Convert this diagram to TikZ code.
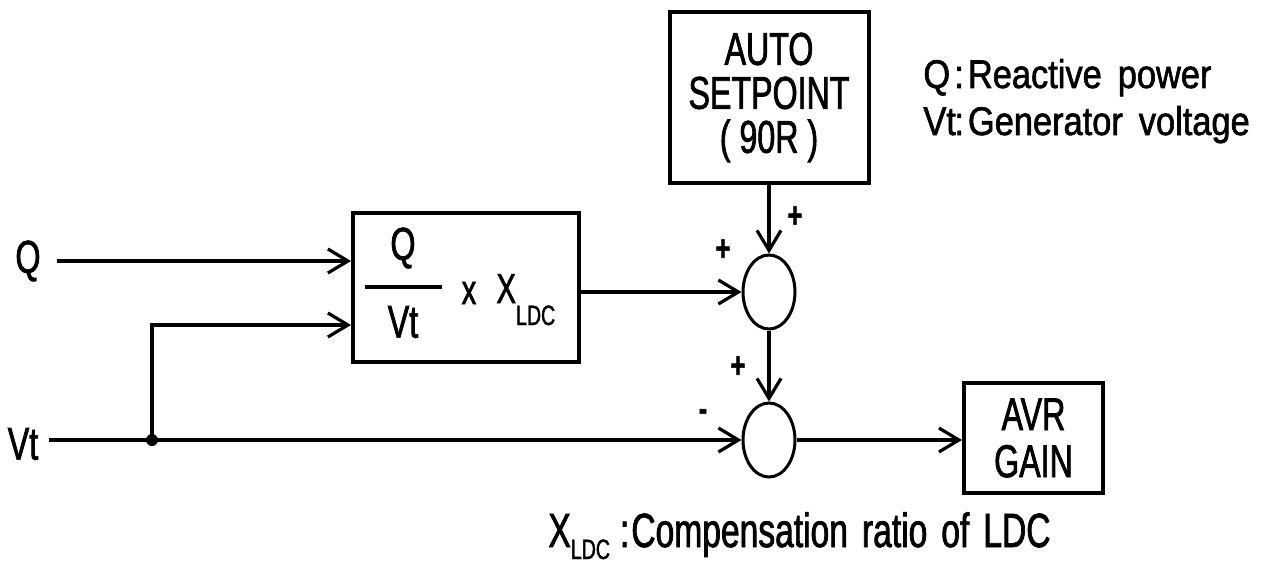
\documentclass[tikz,border=0pt]{standalone}
\usepackage{fontspec}
\setmainfont{Liberation Sans}[FakeStretch=0.7,FakeBold=1.5]
\newfontfamily\legfont{Liberation Sans}[FakeStretch=0.86,FakeBold=1.5]
\usetikzlibrary{arrows.meta,shapes.geometric,calc}
\begin{document}
\begin{tikzpicture}[x=0.5pt,y=-0.5pt,
  blk/.style={draw,line width=2pt,inner sep=0pt},
  sumnode/.style={draw,ellipse,line width=1.5pt,minimum width=26pt,minimum height=37pt,inner sep=0pt},
  conn/.style={line width=1.6pt,-{Straight Barb[length=10pt,width=12pt]}},
  wire/.style={line width=1.6pt},
  lbl/.style={font=\fontsize{23}{23}\selectfont,inner sep=0pt},
  sgn/.style={font=\fontsize{18}{18}\selectfont\bfseries,inner sep=0pt},
  leg/.style={font=\legfont\fontsize{20}{20}\selectfont,inner sep=0pt,anchor=base west}]
\useasboundingbox (0,0) rectangle (1263,567);
% blocks
\node[blk,minimum width=113pt,minimum height=74.5pt] (f) at (466,287.5) {};
\node[lbl] (fq) at (403,248) {Q};
\node[lbl] (fv) at (403,322) {Vt};
\draw[line width=1.6pt] (365,287) -- (442,287);
\node[font=\fontsize{21}{21}\selectfont,inner sep=0pt] (fx) at (469,293) {x};
\node[anchor=base west,inner sep=0pt,font=\fontsize{21}{21}\selectfont] (fX) at (496,303) {X\raisebox{-11pt}{\fontsize{14}{14}\selectfont LDC}};
\node[blk,align=center,font=\fontsize{23}{22}\selectfont,minimum width=99.5pt,minimum height=85.5pt] (auto) at (769,97.5) {AUTO\\SETPOINT\\( 90R )};
\node[blk,align=center,font=\fontsize{23}{23.5}\selectfont,minimum width=69.5pt,minimum height=55pt] (avr) at (1033.5,438) {AVR\\GAIN};
\node[sumnode] (s1) at (769,292) {};
\node[sumnode] (s2) at (769,440) {};
% inputs
\node[lbl] (qin) at (28,261) {Q};
\node[lbl] (vtin) at (23,444) {Vt};
\coordinate (dot) at (152,440);
\fill (dot) circle (3pt);
\draw[conn,shorten <=8pt] (qin.east) -- (qin.east -| f.west);
\draw[wire] (vtin.east |- dot) ++(10,0) -- (dot);
\draw[conn] (dot) -- (s2.west);
\draw[conn] (dot) |- ($(f.west)+(0,37.5)$);
\draw[conn] (f.east |- s1) -- (s1.west);
\draw[conn] (auto.south) -- (s1.north);
\draw[conn] (s1.south) -- (s2.north);
\draw[conn] (s2.east) -- (s2.east -| avr.west);
% signs
\node[sgn] (p1) at (795,217) {+};
\node[sgn] (p2) at (723,250) {+};
\node[sgn] (p3) at (738,367) {+};
\node[sgn] (m1) at (703,415) {-};
% legends
\node[leg] (l1) at (923,88) {\makebox[15.5pt][l]{Q}:\hspace{2pt}Reactive\hspace{8pt}power};
\node[leg] (l2) at (923,135) {\makebox[15.5pt][l]{Vt}:\hspace{2pt}Generator\hspace{8pt}voltage};
\node[anchor=base west,inner sep=0pt,font=\fontsize{24}{24}\selectfont] (l3) at (548,547) {X\raisebox{-6pt}{\fontsize{14}{14}\selectfont LDC}\hspace{5pt}:\hspace{1pt}Compensation\hspace{7pt}ratio\hspace{7pt}of\hspace{7pt}LDC};
\end{tikzpicture}
\end{document}
